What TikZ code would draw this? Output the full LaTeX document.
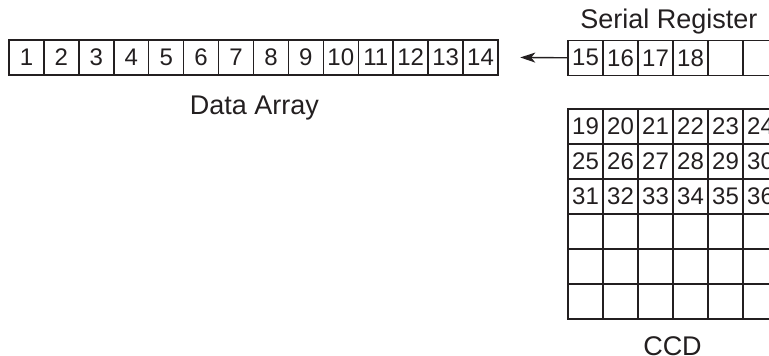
\documentclass[tikz,border=0pt]{standalone}
\usepackage{fontspec}
\setmainfont{Liberation Sans}
\usetikzlibrary{arrows.meta}
\definecolor{ink}{RGB}{35,31,32}
\begin{document}
\begin{tikzpicture}[x=1pt,y=-1pt,
  cell/.style={draw=ink, line width=1.5pt, minimum width=34.93pt,
    minimum height=35pt, inner sep=0pt, text=ink,
    font=\fontsize{24}{27}\selectfont},
  boxtitle/.style={anchor=base, inner sep=0pt, text=ink,
    font=\fontsize{27}{32}\selectfont},
  readout/.style={draw=ink, line width=1.4pt, shorten >=21.5pt,
    -{Stealth[length=15pt,width=10pt,inset=4pt]}}]
\useasboundingbox (0,0) rectangle (769,356);
\clip (0,0) rectangle (769,356);

% data array: fourteen numbered cells
\foreach \i in {1,...,14}
  \node[cell] (d\i) at ({9+34.93*(\i-0.5)},57.3) {\i};
\node[boxtitle] (datatitle) at (254.5,114) {Data Array};

% serial register: six cells, the last two empty
\foreach \i/\t in {1/15,2/16,3/17,4/18,5/,6/}
  \node[cell, minimum width=35pt] (s\i) at ({568+35*(\i-0.5)},57.8) {\t};
\node[boxtitle] (sertitle) at (669,28) {Serial Register};

% readout arrow from the register towards the data array
\draw[readout] (s1.west) -- (d14.east);

% CCD: six by six pixel grid, top three rows numbered
\foreach \r in {1,...,6}
  \foreach \c in {1,...,6}{
    \pgfmathtruncatemacro\n{18+6*(\r-1)+\c}
    \ifnum\r<4
      \node[cell, minimum width=35pt] (c-\r-\c) at ({568+35*(\c-0.5)},{109+35*(\r-0.5)}) {\n};
    \else
      \node[cell, minimum width=35pt] (c-\r-\c) at ({568+35*(\c-0.5)},{109+35*(\r-0.5)}) {};
    \fi
  }
\node[boxtitle] (ccdtitle) at (672.5,355) {CCD};
\end{tikzpicture}
\end{document}
